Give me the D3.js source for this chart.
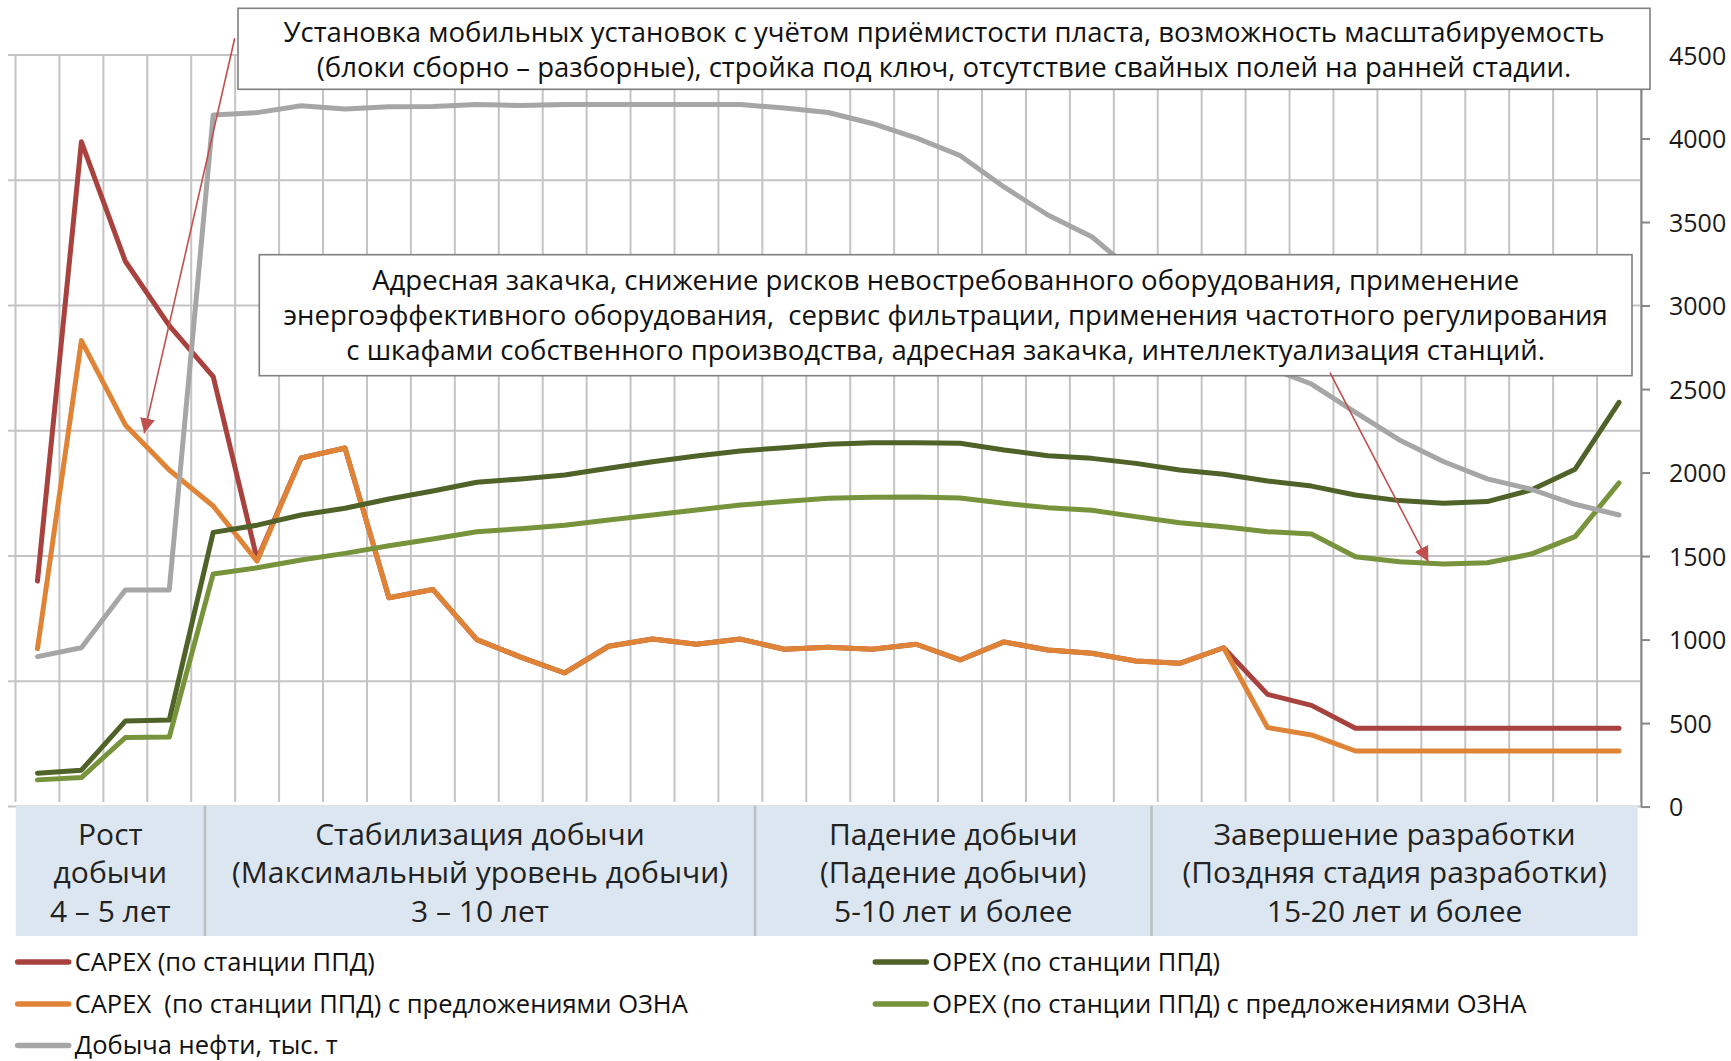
<!DOCTYPE html>
<html lang="ru">
<head>
<meta charset="UTF-8">
<title>CAPEX / OPEX станции ППД</title>
<style>
    body { margin: 0; background: #fff; }
    svg { display: block; font-family: "Open Sans", "Noto Sans", sans-serif; }
    .grid line { stroke: #c4c4c4; stroke-width: 2; }
    .axis--right path, .axis--right line { stroke: #868686; stroke-width: 2; }
    .axis--right text { font-size: 25px; fill: #1a1a1a; font-family: "Open Sans", sans-serif; }
    .series { fill: none; stroke-width: 5; stroke-linejoin: round; stroke-linecap: round; }
    .note rect { fill: #fff; stroke: #7f7f7f; stroke-width: 1.6; }
    .note text { font-size: 27.5px; fill: #111; text-anchor: middle; white-space: pre; }
    .phase text { font-size: 30px; fill: #222; text-anchor: middle; }
    .legend text { font-size: 25.5px; fill: #111; white-space: pre; }
</style>
</head>
<body>
<svg width="1731" height="1061"></svg>
<script src="https://d3js.org/d3.v7.min.js"></script>
<script>
// years of field life (no labels shown on the chart)
var years = [1, 2, 3, 4, 5, 6, 7, 8, 9, 10, 11, 12, 13, 14, 15, 16, 17, 18, 19, 20,
             21, 22, 23, 24, 25, 26, 27, 28, 29, 30, 31, 32, 33, 34, 35, 36, 37];

var capex = [1350, 3980, 3265, 2880, 2575, 1480, 2087, 2147, 1250, 1300, 1000, 895, 800,
             960, 1003, 972, 1003, 942, 954, 942, 972, 878, 986, 938, 918, 872, 858, 951,
             672, 606, 469, 469, 469, 469, 469, 469, 469];
var capexOzna = [945, 2790, 2285, 2015, 1800, 1470, 2087, 2147, 1250, 1300, 1000, 895, 800,
                 960, 1003, 972, 1003, 942, 954, 942, 972, 878, 986, 938, 918, 872, 858, 951,
                 473, 429, 333, 333, 333, 333, 333, 333, 333];
var opex = [200, 218, 512, 518, 1642, 1685, 1746, 1786, 1842, 1890, 1942, 1962, 1985, 2026,
            2065, 2099, 2129, 2149, 2169, 2179, 2179, 2175, 2135, 2101, 2085, 2055, 2015,
            1990, 1949, 1919, 1866, 1832, 1816, 1826, 1896, 2020, 2420];
var opexOzna = [160, 174, 413, 416, 1393, 1430, 1476, 1516, 1562, 1602, 1646, 1664, 1684,
                1716, 1746, 1776, 1806, 1826, 1846, 1852, 1854, 1848, 1816, 1790, 1774, 1736,
                1700, 1676, 1646, 1632, 1496, 1466, 1453, 1460, 1512, 1616, 1938];
var oil = [898, 951, 1297, 1297, 4141, 4155, 4196, 4176, 4190, 4192, 4203, 4198, 4203, 4203,
           4203, 4203, 4203, 4183, 4156, 4090, 4004, 3898, 3710, 3542, 3412, 3190, 3000, 2810,
           2630, 2530, 2360, 2195, 2066, 1962, 1900, 1810, 1746];

var axisTicks = [0, 500, 1000, 1500, 2000, 2500, 3000, 3500, 4000, 4500];
var gridTicks = [0, 750, 1500, 2250, 3000, 3750, 4500];

var seriesNames = ["CAPEX (по станции ППД)", "CAPEX  (по станции ППД) с предложениями ОЗНА",
                   "OPEX (по станции ППД)", "OPEX (по станции ППД) с предложениями ОЗНА",
                   "Добыча нефти, тыс. т"];
var seriesColors = ["#a8423f", "#df8337", "#4f6228", "#77933c", "#a6a6a6"];

var phaseLines = [
    ["Рост", "добычи", "4 – 5 лет"],
    ["Стабилизация добычи", "(Максимальный уровень добычи)", "3 – 10 лет"],
    ["Падение добычи", "(Падение добычи)", "5-10 лет и более"],
    ["Завершение разработки", "(Поздняя стадия разработки)", "15-20 лет и более"]
];

var note1 = ["Установка мобильных установок с учётом приёмистости пласта, возможность масштабируемость",
             "(блоки сборно – разборные), стройка под ключ, отсутствие свайных полей на ранней стадии."];
var note2 = ["Адресная закачка, снижение рисков невостребованного оборудования, применение",
             "энергоэффективного оборудования,  сервис фильтрации, применения частотного регулирования",
             "с шкафами собственного производства, адресная закачка, интеллектуализация станций."];

var svg = d3.select("svg");
var plot = {left: 15.5, right: 1641, top: 55, bottom: 806.6};

var x = d3.scaleBand().domain(years).range([plot.left, plot.right]);
var y = d3.scaleLinear().domain([0, 4500]).range([plot.bottom, plot.top]);
var cx = function(i) { return x(years[i]) + x.bandwidth() / 2; };

// grid
var grid = svg.append("g").attr("class", "grid");
grid.selectAll(".h").data(gridTicks).enter().append("line")
    .attr("x1", 8).attr("x2", plot.right)
    .attr("y1", function(d) { return y(d); }).attr("y2", function(d) { return y(d); });
grid.selectAll(".v").data(years.concat(["end"])).enter().append("line")
    .attr("x1", function(d, i) { return plot.left + i * x.step(); })
    .attr("x2", function(d, i) { return plot.left + i * x.step(); })
    .attr("y1", plot.top).attr("y2", 802);

// phase band under the plot
var edges = [15.7, 205, 755, 1151.5, 1637.7];
var band = svg.append("g").attr("class", "phase");
band.append("rect").attr("x", edges[0]).attr("y", 805.7)
    .attr("width", edges[4] - edges[0]).attr("height", 130.3).attr("fill", "#dce6f1");
band.selectAll("line").data(edges.slice(1, 4)).enter().append("line")
    .attr("x1", function(d) { return d; }).attr("x2", function(d) { return d; })
    .attr("y1", 805.7).attr("y2", 936).attr("stroke", "#bdbdbd").attr("stroke-width", 2.5);
phaseLines.forEach(function(lines, k) {
    var mid = (edges[k] + edges[k + 1]) / 2;
    band.selectAll(".p" + k).data(lines).enter().append("text")
        .attr("x", mid).attr("y", function(d, j) { return 845 + j * 38.4; })
        .text(function(d) { return d; });
});

// lines: CAPEX red under orange, gray on top
var line = d3.line().x(function(d, i) { return cx(i); }).y(function(d) { return y(d); });
[capex, capexOzna, opex, opexOzna, oil].forEach(function(s, k) {
    svg.append("path").attr("class", "series").attr("d", line(s)).attr("stroke", seriesColors[k]);
});

// right axis
svg.append("g").attr("class", "axis--right")
    .attr("transform", "translate(" + plot.right + ",0)")
    .call(d3.axisRight(y).tickValues(axisTicks).tickFormat(d3.format("d"))
        .tickSize(9).tickSizeOuter(0).tickPadding(19))
    .selectAll("text").attr("dy", "0.36em");

// notes
function note(box, lines, y0, gap) {
    var g = svg.append("g").attr("class", "note");
    g.append("rect").attr("x", box[0]).attr("y", box[1])
        .attr("width", box[2] - box[0]).attr("height", box[3] - box[1]);
    g.selectAll("text").data(lines).enter().append("text")
        .attr("x", (box[0] + box[2]) / 2).attr("y", function(d, j) { return y0 + j * gap; })
        .text(function(d) { return d; });
}
note([238, 8.3, 1650, 89.3], note1, 42.3, 35);
note([259.3, 254.7, 1632, 375.7], note2, 290, 35.2);

// arrows
svg.append("defs").append("marker").attr("id", "head")
    .attr("viewBox", "0 0 10 10").attr("refX", 10).attr("refY", 5)
    .attr("markerWidth", 15).attr("markerHeight", 15).attr("markerUnits", "userSpaceOnUse")
    .attr("orient", "auto")
    .append("path").attr("d", "M0,0L10,5L0,10Z").attr("fill", "#c0504d");
var arrows = [[4.49, 4600, 2.43, 2235], [29.42, 2598, 31.66, 1466]];
svg.selectAll(".arrow").data(arrows).enter().append("line").attr("class", "arrow")
    .attr("x1", function(d) { return plot.left + (d[0] + 0.5) * x.step(); })
    .attr("y1", function(d) { return y(d[1]); })
    .attr("x2", function(d) { return plot.left + (d[2] + 0.5) * x.step(); })
    .attr("y2", function(d) { return y(d[3]); })
    .attr("stroke", "#c0504d").attr("stroke-width", 1.6).attr("marker-end", "url(#head)");

// legend
var legendPos = [[15.7, 962], [15.7, 1004], [873.3, 962], [873.3, 1004], [15.7, 1045.5]];
var legend = svg.append("g").attr("class", "legend");
seriesNames.forEach(function(name, k) {
    var p = legendPos[k];
    legend.append("line").attr("x1", p[0] + 2).attr("x2", p[0] + 53)
        .attr("y1", p[1]).attr("y2", p[1])
        .attr("stroke", seriesColors[k]).attr("stroke-width", 5.5).attr("stroke-linecap", "round");
    legend.append("text").attr("x", p[0] + 59).attr("y", p[1] + 8.5).text(name);
});
</script>
</body>
</html>
